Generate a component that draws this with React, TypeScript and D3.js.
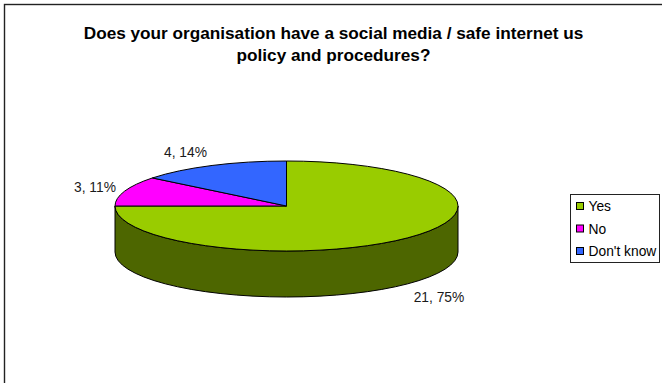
import React from "react";
import * as d3 from "d3";

const categories = ["Yes", "No", "Don't know"];
const counts = [21, 3, 4];
const percents = [75, 11, 14];
const topColors = ["#99cc00", "#ff00ff", "#3366ff"];
const wallColor = "#4d6600";
const titleLines = [
  "Does your organisation have a social media / safe internet us",
  "policy and procedures?",
];

const WIDTH = 662;
const HEIGHT = 383;
const cx = 286.5;
const cy = 206;
const rx = 171.5;
const ry = 45;
const depth = 46;
const FONT = "'Liberation Sans', Arial, sans-serif";

// Angles run clockwise from 12 o'clock, as d3.pie gives them.
const slices = d3.pie<number>().sort(null)(counts);

const px = (a: number) => cx + rx * Math.sin(a);
const py = (a: number) => cy - ry * Math.cos(a);

function ellipseArc(a0: number, a1: number, dy = 0, reverse = false) {
  const path = d3.path();
  const from = reverse ? a1 : a0;
  const to = reverse ? a0 : a1;
  const large = Math.abs(a1 - a0) > Math.PI ? 1 : 0;
  const sweep = reverse ? 0 : 1;
  path.moveTo(px(from), py(from) + dy);
  return `${path.toString()}A${rx},${ry} 0 ${large} ${sweep} ${px(to)},${py(to) + dy}`;
}

function slicePath(a0: number, a1: number) {
  return `${ellipseArc(a0, a1)}L${cx},${cy}Z`;
}

// Visible side wall: the front half of the rim, from 3 o'clock to 9 o'clock.
function wallPath() {
  const a0 = Math.PI / 2;
  const a1 = (3 * Math.PI) / 2;
  const lower = ellipseArc(a0, a1, depth, true);
  return `${ellipseArc(a0, a1)}L${px(a1)},${py(a1) + depth}${lower.replace(/^M[^A]*/, "")}Z`;
}

const labelPositions: [number, number, string][] = [
  [439, 302, "middle"],
  [74, 192, "start"],
  [164, 157, "start"],
];

export default function App() {
  return (
    <svg
      width={WIDTH}
      height={HEIGHT}
      viewBox={`0 0 ${WIDTH} ${HEIGHT}`}
      style={{ position: "fixed", left: 0, top: 0, display: "block", background: "#fff" }}
      fontFamily={FONT}
    >
      <rect x={4.5} y={4.5} width={WIDTH + 20} height={HEIGHT + 20} fill="#fff" stroke="#222" strokeWidth={1.4} />
      {titleLines.map((line, i) => (
        <text key={line} x={333.5} y={38.5 + i * 22} textAnchor="middle" fontSize={17.2} fontWeight={700} fill="#000">
          {line}
        </text>
      ))}
      <path d={wallPath()} fill={wallColor} stroke="#000" strokeWidth={1} />
      {slices.map((s, i) => (
        <path
          key={categories[i]}
          d={slicePath(s.startAngle, s.endAngle)}
          fill={topColors[i]}
          stroke="#000"
          strokeWidth={1}
          strokeLinejoin="round"
        />
      ))}
      {slices.map((s, i) => (
        <text
          key={categories[i]}
          x={labelPositions[i][0]}
          y={labelPositions[i][1]}
          textAnchor={labelPositions[i][2] as "start" | "middle"}
          fontSize={13.8}
          fill="#1a1a1a"
        >
          {`${counts[i]}, ${percents[i]}%`}
        </text>
      ))}
      <rect x={570.5} y={194.5} width={89} height={68} fill="#fff" stroke="#222" strokeWidth={1} />
      {categories.map((c, i) => (
        <g key={c}>
          <rect x={576.5} y={202.5 + i * 22.5} width={7} height={7} fill={topColors[i]} stroke="#000" />
          <text x={588.5} y={211 + i * 22.5} fontSize={13.8} fill="#000">
            {c}
          </text>
        </g>
      ))}
    </svg>
  );
}
